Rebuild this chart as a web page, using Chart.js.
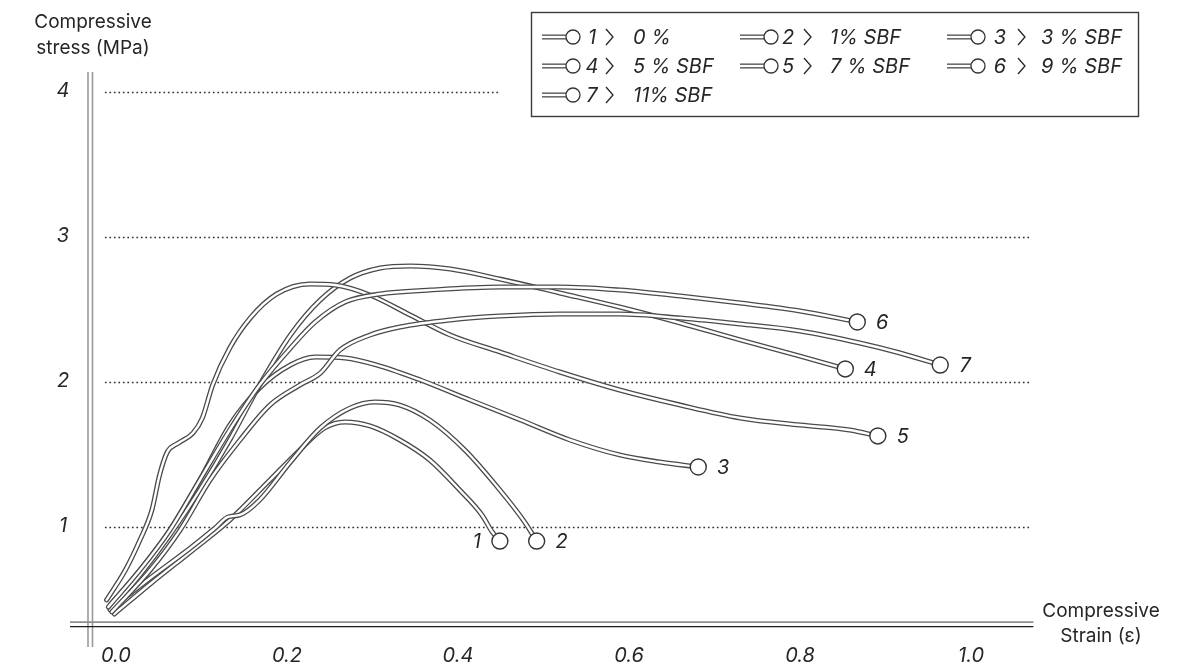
<!DOCTYPE html>
<html>
<head>
<meta charset="utf-8">
<script src="https://cdn.jsdelivr.net/npm/chart.js@4.4.1/dist/chart.umd.min.js"></script>
<style>
  html, body { margin: 0; padding: 0; background: #ffffff; }
  #wrap { width: 1189px; height: 668px; }
</style>
</head>
<body>
<div id="wrap"><canvas id="c" width="1189" height="668"></canvas></div>
<script>
// Specimen ids and SBF contents
const seriesIds = ['1', '2', '3', '4', '5', '6', '7'];
const seriesNames = ['0 %', '1% SBF', '3 % SBF', '5 % SBF', '7 % SBF', '9 % SBF', '11% SBF'];

// Compressive strain (ε) / compressive stress (MPa) for each specimen
const strain1 = [-0.002, 0.040, 0.087, 0.133, 0.180, 0.215, 0.244, 0.268, 0.297, 0.332, 0.367, 0.402, 0.428, 0.440, 0.449];
const stress1 = [0.40, 0.607, 0.828, 1.048, 1.324, 1.531, 1.683, 1.724, 1.697, 1.600, 1.462, 1.255, 1.083, 0.966, 0.903];

const strain2 = [-0.005, 0.040, 0.087, 0.116, 0.131, 0.145, 0.168, 0.204, 0.239, 0.274, 0.303, 0.332, 0.367, 0.408, 0.449, 0.478, 0.492];
const stress2 = [0.441, 0.648, 0.855, 0.993, 1.069, 1.083, 1.186, 1.448, 1.683, 1.821, 1.862, 1.841, 1.738, 1.531, 1.255, 1.034, 0.903];

const strain3 = [-0.007, 0.028, 0.063, 0.098, 0.133, 0.168, 0.204, 0.233, 0.268, 0.309, 0.356, 0.414, 0.473, 0.531, 0.589, 0.636, 0.681];
const stress3 = [0.462, 0.703, 0.979, 1.324, 1.703, 1.959, 2.117, 2.172, 2.166, 2.110, 2.014, 1.876, 1.738, 1.600, 1.497, 1.448, 1.414];

const strain4 = [-0.007, 0.028, 0.063, 0.098, 0.133, 0.168, 0.204, 0.239, 0.274, 0.309, 0.344, 0.391, 0.449, 0.519, 0.589, 0.660, 0.730, 0.800, 0.853];
const stress4 = [0.428, 0.669, 0.945, 1.255, 1.600, 1.979, 2.324, 2.566, 2.717, 2.786, 2.800, 2.779, 2.710, 2.614, 2.517, 2.407, 2.290, 2.179, 2.090];

const strain5 = [-0.011, 0.011, 0.028, 0.042, 0.051, 0.060, 0.073, 0.090, 0.101, 0.113, 0.133, 0.157, 0.188, 0.227, 0.256, 0.297, 0.344, 0.391, 0.449, 0.519, 0.589, 0.660, 0.730, 0.800, 0.858, 0.891];
const stress5 = [0.497, 0.703, 0.910, 1.117, 1.359, 1.517, 1.579, 1.648, 1.752, 1.979, 2.234, 2.441, 2.607, 2.676, 2.669, 2.600, 2.462, 2.324, 2.207, 2.069, 1.945, 1.841, 1.752, 1.703, 1.669, 1.628];

const strain6 = [-0.009, 0.028, 0.063, 0.098, 0.133, 0.168, 0.204, 0.233, 0.268, 0.309, 0.367, 0.449, 0.519, 0.589, 0.660, 0.730, 0.800, 0.867];
const stress6 = [0.448, 0.703, 0.979, 1.324, 1.669, 1.979, 2.234, 2.414, 2.552, 2.607, 2.634, 2.655, 2.655, 2.634, 2.593, 2.545, 2.490, 2.414];

const strain7 = [-0.005, 0.040, 0.075, 0.110, 0.145, 0.180, 0.215, 0.239, 0.262, 0.297, 0.332, 0.391, 0.449, 0.519, 0.589, 0.660, 0.730, 0.800, 0.870, 0.917, 0.964];
const stress7 = [0.414, 0.703, 0.979, 1.324, 1.600, 1.841, 1.979, 2.062, 2.221, 2.324, 2.379, 2.428, 2.455, 2.469, 2.469, 2.441, 2.400, 2.352, 2.269, 2.200, 2.117];

// Axis ticks
const xTicks = [0, 0.2, 0.4, 0.6, 0.8, 1.0];
const xTickLabels = ['0.0', '0.2', '0.4', '0.6', '0.8', '1.0'];
const yTicks = [1, 2, 3, 4];
const yTickLabels = ['1', '2', '3', '4'];

const strains = [strain1, strain2, strain3, strain4, strain5, strain6, strain7];
const stresses = [stress1, stress2, stress3, stress4, stress5, stress6, stress7];

const INK = '#262626';
const LINE = '#4a4a4a';
const FONT = 'Inter, "Liberation Sans", sans-serif';
const OUTER_W = 5;
const INNER_W = 2.4;

function points(i) {
  return strains[i].map((x, k) => ({ x: x, y: stresses[i][k] }));
}

// Each curve is a dark stroke with a thin white core on top, ending in an open circle.
const datasets = [];
seriesIds.forEach((id, i) => {
  const pts = points(i);
  datasets.push({
    label: id + ' outline',
    data: pts,
    borderColor: LINE,
    borderWidth: OUTER_W,
    pointRadius: 0,
    cubicInterpolationMode: 'monotone',
    clip: false,
    order: 100 - 2 * i
  });
  datasets.push({
    label: id,
    data: pts,
    borderColor: '#ffffff',
    borderWidth: INNER_W,
    pointRadius: pts.map((p, k) => (k === pts.length - 1 ? 8 : 0)),
    pointBackgroundColor: '#ffffff',
    pointBorderColor: '#333333',
    pointBorderWidth: 1.4,
    cubicInterpolationMode: 'monotone',
    clip: false,
    order: 99 - 2 * i
  });
});

function dotted(ctx, x1, x2, y) {
  ctx.save();
  ctx.strokeStyle = '#333333';
  ctx.lineWidth = 1.7;
  ctx.setLineDash([1.7, 2.8]);
  ctx.beginPath();
  ctx.moveTo(x1, y);
  ctx.lineTo(x2, y);
  ctx.stroke();
  ctx.restore();
}

function doubleStroke(ctx, x1, y1, x2, y2) {
  ctx.save();
  ctx.lineCap = 'butt';
  ctx.strokeStyle = LINE;
  ctx.lineWidth = OUTER_W;
  ctx.beginPath(); ctx.moveTo(x1, y1); ctx.lineTo(x2, y2); ctx.stroke();
  ctx.strokeStyle = '#ffffff';
  ctx.lineWidth = INNER_W;
  ctx.beginPath(); ctx.moveTo(x1 - 1, y1); ctx.lineTo(x2, y2); ctx.stroke();
  ctx.restore();
}

function chevron(ctx, x, y) {
  ctx.save();
  ctx.strokeStyle = INK;
  ctx.lineWidth = 1.3;
  ctx.beginPath();
  ctx.moveTo(x, y - 8);
  ctx.lineTo(x + 7, y);
  ctx.lineTo(x, y + 8);
  ctx.stroke();
  ctx.restore();
}

const framePlugin = {
  id: 'frame',
  beforeDatasetsDraw(chart) {
    const ctx = chart.ctx;
    const xs = chart.scales.x, ys = chart.scales.y;
    const left = xs.getPixelForValue(-0.013);
    const right = xs.getPixelForValue(1.069);

    // dotted reference lines at each stress tick
    yTicks.forEach(v => {
      const y = Math.round(ys.getPixelForValue(v)) + 0.5;
      const end = v === 4 ? xs.getPixelForValue(0.45) : right;
      dotted(ctx, left, end, y);
    });

    // vertical double axis line
    ctx.save();
    ctx.strokeStyle = '#9a9a9a';
    ctx.lineWidth = 1.6;
    [88, 92.5].forEach(x => {
      ctx.beginPath();
      ctx.moveTo(x, 72);
      ctx.lineTo(x, 647);
      ctx.stroke();
    });
    // horizontal double axis line
    const base = ys.getPixelForValue(0.33);
    ctx.strokeStyle = '#8f8f8f';
    ctx.beginPath(); ctx.moveTo(70, base - 2); ctx.lineTo(xs.getPixelForValue(1.073), base - 2); ctx.stroke();
    ctx.strokeStyle = '#1e1e1e';
    ctx.lineWidth = 1.4;
    ctx.beginPath(); ctx.moveTo(70, base + 2.5); ctx.lineTo(xs.getPixelForValue(1.073), base + 2.5); ctx.stroke();
    ctx.restore();
  },
  afterDatasetsDraw(chart) {
    const ctx = chart.ctx;
    const xs = chart.scales.x, ys = chart.scales.y;
    ctx.save();
    ctx.fillStyle = INK;

    // tick labels
    ctx.font = 'italic 20px ' + FONT;
    ctx.textAlign = 'center';
    ctx.textBaseline = 'middle';
    xTicks.forEach((v, k) => {
      ctx.fillText(xTickLabels[k], xs.getPixelForValue(v), 656);
    });
    yTicks.forEach((v, k) => {
      ctx.fillText(yTickLabels[k], 63, ys.getPixelForValue(v) - 1);
    });

    // axis titles
    ctx.font = '19px ' + FONT;
    ctx.fillText('Compressive', 93, 22);
    ctx.fillText('stress (MPa)', 93, 48);
    ctx.fillText('Compressive', 1101, 611);
    ctx.fillText('Strain (\u03b5)', 1101, 636);

    // curve end labels
    ctx.font = 'italic 20px ' + FONT;
    seriesIds.forEach((id, i) => {
      const last = strains[i].length - 1;
      const px = xs.getPixelForValue(strains[i][last]);
      const py = ys.getPixelForValue(stresses[i][last]);
      const dx = i === 0 ? -23 : 25;
      ctx.fillText(id, px + dx, py + 1);
    });

    // legend box
    ctx.strokeStyle = '#3a3a3a';
    ctx.lineWidth = 1.4;
    ctx.strokeRect(531.5, 12.5, 607, 104);

    const colSym = [542, 740, 947];
    const colNum = [592, 788, 1000];
    const colChev = [606, 804, 1018];
    const colLab = [633, 830, 1041];
    const rowY = [37, 66, 95];
    seriesIds.forEach((id, i) => {
      const c = i % 3, r = Math.floor(i / 3);
      const y = rowY[r];
      doubleStroke(ctx, colSym[c], y, colSym[c] + 24, y);
      ctx.save();
      ctx.beginPath();
      ctx.arc(colSym[c] + 31, y, 7, 0, Math.PI * 2);
      ctx.fillStyle = '#ffffff';
      ctx.fill();
      ctx.strokeStyle = '#333333';
      ctx.lineWidth = 1.3;
      ctx.stroke();
      ctx.restore();
      ctx.fillStyle = INK;
      ctx.font = 'italic 20px ' + FONT;
      ctx.textAlign = 'center';
      ctx.fillText(id, colNum[c], y + 1);
      chevron(ctx, colChev[c], y);
      ctx.textAlign = 'left';
      ctx.fillText(seriesNames[i], colLab[c], y + 1);
    });
    ctx.restore();
  }
};

new Chart(document.getElementById('c'), {
  type: 'line',
  data: { datasets: datasets },
  options: {
    responsive: false,
    animation: false,
    devicePixelRatio: 1,
    layout: { padding: { left: 116, right: 218, top: 92, bottom: 54 } },
    plugins: { legend: { display: false }, tooltip: { enabled: false } },
    elements: { line: { borderCapStyle: 'round', borderJoinStyle: 'round' } },
    scales: {
      x: { type: 'linear', min: 0, max: 1, display: false },
      y: { type: 'linear', min: 0.4, max: 4, display: false }
    }
  },
  plugins: [framePlugin]
});
</script>
</body>
</html>
